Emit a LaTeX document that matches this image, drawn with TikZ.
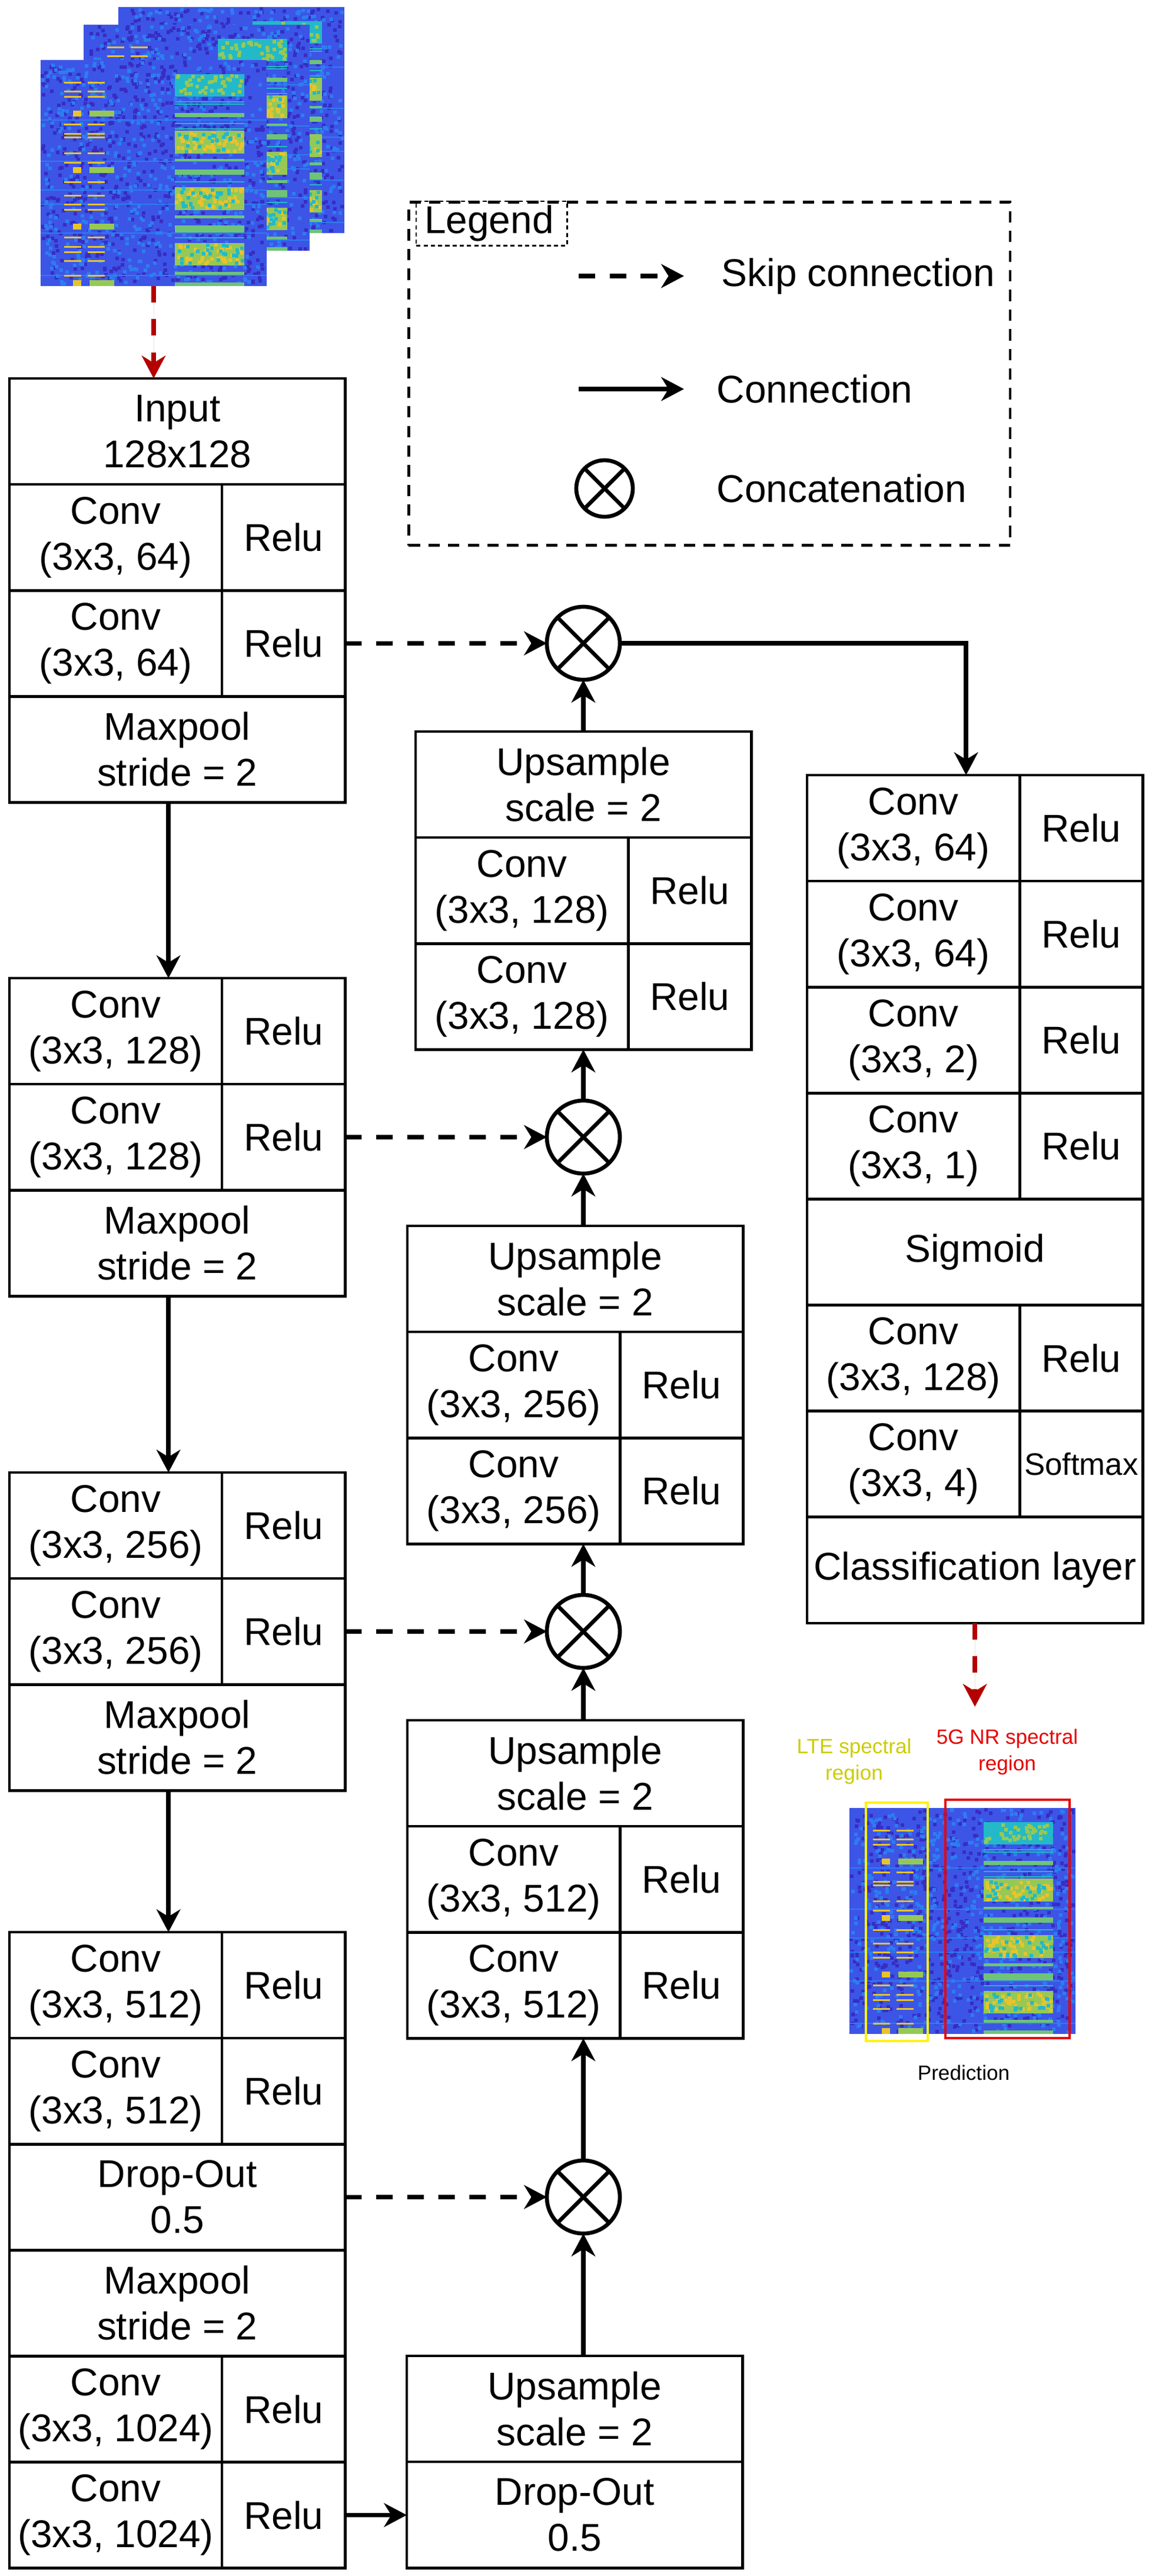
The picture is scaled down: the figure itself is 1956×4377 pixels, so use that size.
\documentclass[tikz,border=0pt]{standalone}
\usepackage{fontspec}
\setmainfont{Liberation Sans}
\usetikzlibrary{positioning,arrows.meta}
\definecolor{darkred}{RGB}{180,0,0}
\definecolor{ltetext}{RGB}{204,204,0}
\definecolor{nrtext}{RGB}{230,0,0}
\definecolor{specbg}{RGB}{60,85,230}
\definecolor{specdk}{RGB}{55,45,195}
\definecolor{speclt}{RGB}{45,125,240}
\definecolor{speccy}{RGB}{35,185,200}
\definecolor{specgr}{RGB}{110,195,120}
\definecolor{specye}{RGB}{232,195,45}
\definecolor{specyg}{RGB}{150,200,85}
\newcommand\blockfont{\fontsize{18.7}{22.2}\selectfont}
\newcommand\smallfont{\fontsize{10}{13}\selectfont}
\tikzset{
  cell/.style={draw,line width=1.3pt,inner sep=0pt,outer sep=0pt,align=center,font=\blockfont,minimum height=1.8cm},
  wide/.style={cell,minimum width=5.7cm},
  conv/.style={cell,minimum width=3.61cm},
  relu/.style={cell,minimum width=2.09cm},
  conn/.style={line width=2.1pt,-{Stealth[length=11pt,width=11.5pt,inset=3.5pt]}},
  skip/.style={conn,dash pattern=on 8pt off 7pt},
  redarr/.style={conn,draw=darkred,fill=darkred,dash pattern=on 8pt off 8pt},
  concat/.style={circle,draw,line width=1.9pt,minimum size=1.24cm,inner sep=0pt,outer sep=0pt,
    path picture={\draw[line width=1.9pt] (path picture bounding box.north west)--(path picture bounding box.south east)
      (path picture bounding box.north east)--(path picture bounding box.south west);}},
  legtext/.style={anchor=west,inner sep=0pt,font=\blockfont},
  % spectrogram, 384 px square, origin top left
  spec/.pic={
    \fill[specbg] (0,0) rectangle (384,384);
    \foreach \k in {1,...,700}{\fill[specdk] ({rnd*378},{rnd*378}) rectangle ++(6,6);}
    \foreach \k in {1,...,500}{\fill[speclt] ({rnd*378},{rnd*378}) rectangle ++(6,6);}
    \foreach \y in {101,171,220,244,293,365} \fill[speclt] (0,\y) rectangle (384,\y+2);
    \foreach \y in {37,52,61,108,124,130,157,173,206,229,244,253,300,316,325,340,365}{
      \fill[specye] (40,\y) rectangle (69,\y+3);
      \fill[specye] (80,\y) rectangle (109,\y+3);}
    \foreach \y in {86,182,278,374}{
      \fill[specye] (55,\y) rectangle (69,\y+10);
      \fill[specyg] (83,\y) rectangle (125,\y+10);}
    \fill[speccy] (228,24) rectangle (346,62);
    \foreach \k in {1,...,40}{\fill[specyg] ({228+rnd*112},{24+rnd*32}) rectangle ++(6,6);}
    \foreach \y in {70,74,107,116,206,301} \fill[speccy] (228,\y) rectangle (346,\y+2);
    \foreach \a/\b in {90/97,168/172,186/195,264/269,281/293,360/365,378/384} \fill[specgr] (228,\a) rectangle (346,\b);
    \foreach \a/\b in {120/159,216/255,311/349}{
      \fill[specyg] (228,\a) rectangle (346,\b);
      \foreach \k in {1,...,45}{\fill[specye] ({228+rnd*112},{\a+rnd*(\b-\a-6)}) rectangle ++(6,6);}
      \foreach \k in {1,...,25}{\fill[speccy] ({228+rnd*112},{\a+rnd*(\b-\a-6)}) rectangle ++(6,6);}}
    \coordinate (-bot) at (192,384);
  }
}
\begin{document}
\begin{tikzpicture}[x=0.01cm,y=-0.01cm]
\useasboundingbox (0,0) rectangle (1956,4377);
\pgfmathsetseed{7}
% input spectrograms
\pic (back) at (201,12) {spec};
\pic (mid) at (142,42) {spec};
\pic (front) at (69,102) {spec};

% encoder
\node[wide,anchor=north west] (inp) at (16,643) {Input\\128x128};
\node[conv,anchor=north west] (e1a) at (inp.south west) {Conv\\(3x3, 64)};
\node[relu,right=0pt of e1a] (e1ar) {Relu};
\node[conv,anchor=north west] (e1b) at (e1a.south west) {Conv\\(3x3, 64)};
\node[relu,right=0pt of e1b] (e1br) {Relu};
\node[wide,anchor=north west] (e1p) at (e1b.south west) {Maxpool\\stride = 2};

\node[conv,anchor=north west] (e2a) at (16,1662) {Conv\\(3x3, 128)};
\node[relu,right=0pt of e2a] (e2ar) {Relu};
\node[conv,anchor=north west] (e2b) at (e2a.south west) {Conv\\(3x3, 128)};
\node[relu,right=0pt of e2b] (e2br) {Relu};
\node[wide,anchor=north west] (e2p) at (e2b.south west) {Maxpool\\stride = 2};

\node[conv,anchor=north west] (e3a) at (16,2502) {Conv\\(3x3, 256)};
\node[relu,right=0pt of e3a] (e3ar) {Relu};
\node[conv,anchor=north west] (e3b) at (e3a.south west) {Conv\\(3x3, 256)};
\node[relu,right=0pt of e3b] (e3br) {Relu};
\node[wide,anchor=north west] (e3p) at (e3b.south west) {Maxpool\\stride = 2};

\node[conv,anchor=north west] (e4a) at (16,3283) {Conv\\(3x3, 512)};
\node[relu,right=0pt of e4a] (e4ar) {Relu};
\node[conv,anchor=north west] (e4b) at (e4a.south west) {Conv\\(3x3, 512)};
\node[relu,right=0pt of e4b] (e4br) {Relu};
\node[wide,anchor=north west] (e4d) at (e4b.south west) {Drop-Out\\0.5};
\node[wide,below=0pt of e4d] (e4p) {Maxpool\\stride = 2};
\node[conv,anchor=north west] (e4c) at (e4p.south west) {Conv\\(3x3, 1024)};
\node[relu,right=0pt of e4c] (e4cr) {Relu};
\node[conv,anchor=north west] (e4e) at (e4c.south west) {Conv\\(3x3, 1024)};
\node[relu,right=0pt of e4e] (e4er) {Relu};

% decoder
\node[wide,anchor=north west] (d4u) at (691,4003) {Upsample\\scale = 2};
\node[wide,below=0pt of d4u] (d4d) {Drop-Out\\0.5};

\node[wide,anchor=north west] (d3u) at (692,2923) {Upsample\\scale = 2};
\node[conv,anchor=north west] (d3a) at (d3u.south west) {Conv\\(3x3, 512)};
\node[relu,right=0pt of d3a] (d3ar) {Relu};
\node[conv,anchor=north west] (d3b) at (d3a.south west) {Conv\\(3x3, 512)};
\node[relu,right=0pt of d3b] (d3br) {Relu};

\node[wide,anchor=north west] (d2u) at (692,2083) {Upsample\\scale = 2};
\node[conv,anchor=north west] (d2a) at (d2u.south west) {Conv\\(3x3, 256)};
\node[relu,right=0pt of d2a] (d2ar) {Relu};
\node[conv,anchor=north west] (d2b) at (d2a.south west) {Conv\\(3x3, 256)};
\node[relu,right=0pt of d2b] (d2br) {Relu};

\node[wide,anchor=north west] (d1u) at (706,1243) {Upsample\\scale = 2};
\node[conv,anchor=north west] (d1a) at (d1u.south west) {Conv\\(3x3, 128)};
\node[relu,right=0pt of d1a] (d1ar) {Relu};
\node[conv,anchor=north west] (d1b) at (d1a.south west) {Conv\\(3x3, 128)};
\node[relu,right=0pt of d1b] (d1br) {Relu};

\node[concat] (c1) at (991,1093) {};
\node[concat] (c2) at (991,1932) {};
\node[concat] (c3) at (991,2772) {};
\node[concat] (c4) at (991,3733) {};

% output head
\node[conv,anchor=north west] (r1) at (1371,1317) {Conv\\(3x3, 64)};
\node[relu,right=0pt of r1] (r1r) {Relu};
\node[conv,anchor=north west] (r2) at (r1.south west) {Conv\\(3x3, 64)};
\node[relu,right=0pt of r2] (r2r) {Relu};
\node[conv,anchor=north west] (r3) at (r2.south west) {Conv\\(3x3, 2)};
\node[relu,right=0pt of r3] (r3r) {Relu};
\node[conv,anchor=north west] (r4) at (r3.south west) {Conv\\(3x3, 1)};
\node[relu,right=0pt of r4] (r4r) {Relu};
\node[wide,anchor=north west] (rsig) at (r4.south west) {Sigmoid};
\node[conv,anchor=north west] (r5) at (rsig.south west) {Conv\\(3x3, 128)};
\node[relu,right=0pt of r5] (r5r) {Relu};
\node[conv,anchor=north west] (r6) at (r5.south west) {Conv\\(3x3, 4)};
\node[relu,right=0pt of r6,font=\fontsize{15}{18}\selectfont] (r6r) {Softmax};
\node[wide,anchor=north west] (rcls) at (r6.south west) {Classification layer};

% prediction
\coordinate (predin) at (1657,2900);
\pic (pred) at (1443,3072) {spec};
\draw[yellow,line width=1pt] (1471,3063) rectangle (1576,3468);
\draw[nrtext,line width=1pt] (1606,3058) rectangle (1817,3463);
\node[align=center,text=ltetext,font=\smallfont] (lte) at (1451,2993) {LTE spectral\\region};
\node[align=center,text=nrtext,font=\smallfont] (nr) at (1711,2977) {5G NR spectral\\region};
\node[font=\smallfont] (predlab) at (1637,3522) {Prediction};

% connections
\draw[redarr] (front-bot) -- (front-bot |- inp.north);
\draw[conn] ([xshift=2.7cm]e1p.south west) -- ([xshift=2.7cm]e2a.north west);
\draw[conn] ([xshift=2.7cm]e2p.south west) -- ([xshift=2.7cm]e3a.north west);
\draw[conn] ([xshift=2.7cm]e3p.south west) -- ([xshift=2.7cm]e4a.north west);
\draw[conn] (e4er) -- (d4d);
\draw[skip] (e1br) -- (c1);
\draw[skip] (e2br) -- (c2);
\draw[skip] (e3br) -- (c3);
\draw[skip] (e4d) -- (c4);
\draw[conn] (d4u.north -| c4) -- (c4);
\draw[conn] (c4) -- (c4 |- d3b.south);
\draw[conn] (d3u.north -| c3) -- (c3);
\draw[conn] (c3) -- (c3 |- d2b.south);
\draw[conn] (d2u.north -| c2) -- (c2);
\draw[conn] (c2) -- (c2 |- d1b.south);
\draw[conn] (d1u.north -| c1) -- (c1);
\draw[conn] (c1) -| ([xshift=2.7cm]r1.north west);
\draw[redarr] (rcls.south) -- (rcls.south |- predin);

% legend
\node[draw,line width=1.3pt,dash pattern=on 5.5pt off 4pt,minimum width=10.21cm,minimum height=5.83cm,anchor=north west] (legend) at (692,341) {};
\node[draw,line width=0.7pt,dash pattern=on 2pt off 1.5pt,anchor=north west,minimum height=0.75cm,text width=2.28cm,inner xsep=0.14cm,inner ysep=0pt,align=left,font=\blockfont] (legtitle) at (706,341) {Legend};
\node[legtext] (lskip) at (1225,469) {Skip connection};
\node[legtext] (lconn) at (1217,661) {Connection};
\node[legtext] (lcat) at (1217,830) {Concatenation};
\draw[skip] ([xshift=-2.42cm]lskip.west) -- ([xshift=-0.63cm]lskip.west);
\draw[conn] ([xshift=-2.34cm]lconn.west) -- ([xshift=-0.55cm]lconn.west);
\node[concat,minimum size=0.96cm] (lcirc) at (1027,830) {};
\end{tikzpicture}
\end{document}
